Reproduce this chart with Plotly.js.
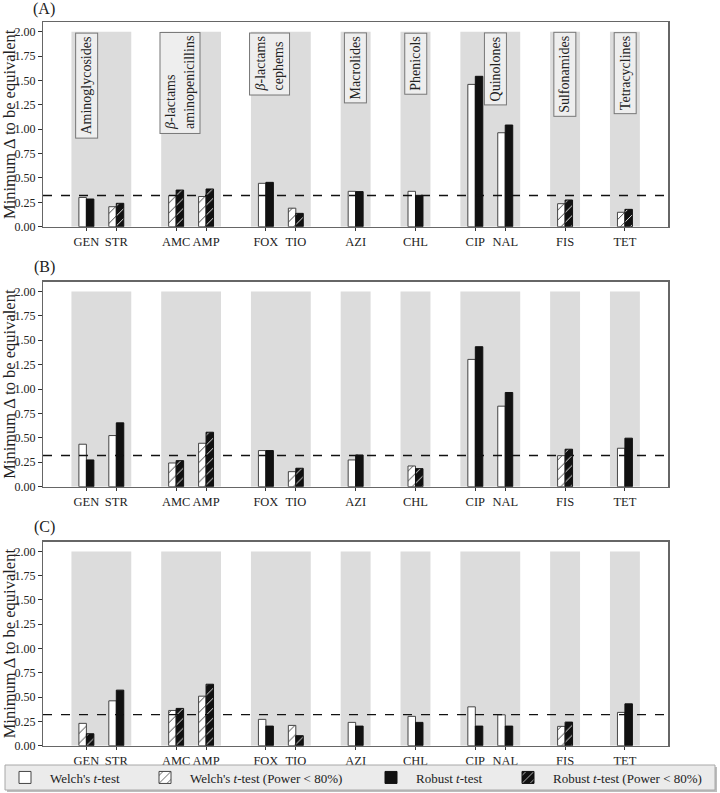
<!DOCTYPE html>
<html>
<head>
<meta charset="utf-8">
<script src="https://cdn.plot.ly/plotly-3.0.1.min.js"></script>
<style>html,body{margin:0;padding:0;background:#fff;}#chart{width:720px;height:793px;}</style>
</head>
<body>
<div id="chart"></div>
<script>
// ---------------- data ----------------
const categories = ['GEN','STR','AMC','AMP','FOX','TIO','AZI','CHL','CIP','NAL','FIS','TET'];
const classNames = ['Aminoglycosides','<i>β</i>-lactams<br>aminopenicillins','<i>β</i>-lactams<br>cephems','Macrolides','Phenicols','Quinolones','Sulfonamides','Tetracyclines'];
const classSizes = [2,2,2,1,1,2,1,1];
const panelLabels = ['(A)','(B)','(C)'];
const threshold = 0.32;

const welchA  = [0.300,0.205,0.320,0.310,0.445,0.190,0.363,0.363,1.460,0.964,0.236,0.148];
const robustA = [0.284,0.240,0.376,0.387,0.455,0.137,0.360,0.322,1.543,1.043,0.274,0.178];
const lowPowerA = [0,1,1,1,0,1,0,0,0,0,1,1];

const welchB  = [0.435,0.524,0.243,0.445,0.370,0.154,0.274,0.212,1.304,0.825,0.318,0.394];
const robustB = [0.274,0.654,0.267,0.558,0.370,0.189,0.325,0.185,1.434,0.965,0.384,0.497];
const lowPowerB = [0,0,1,1,0,1,0,1,0,0,1,0];

const welchC  = [0.230,0.462,0.363,0.510,0.271,0.209,0.240,0.302,0.400,0.318,0.199,0.343];
const robustC = [0.123,0.572,0.384,0.633,0.202,0.103,0.202,0.240,0.202,0.202,0.243,0.431];
const lowPowerC = [1,0,1,1,0,1,0,0,0,0,1,0];

const legendNames = ["Welch's <i>t</i>-test", "Welch's <i>t</i>-test (Power &lt; 80%)", "Robust <i>t</i>-test", "Robust <i>t</i>-test (Power &lt; 80%)"];

// ---------------- style ----------------
const FONT = 'Liberation Serif, Times New Roman, serif';
const classLabelShift = [0, 0.12, 0.13, 0, 0, 0.68, 0, 0];
const xDomain = [43/720, 668.3/720];
const yDomains = [[0.71412,0.97226],[0.38626,0.64477],[0.05965,0.31690]];
const panelLabelY = [9, 267, 527];
const legendItemX = [0, 140, 366, 503];   // px, left edge of each legend entry
const BAR_W = 0.25;
const H = 793, W = 720;

// positions derived from class structure: one empty slot between classes
const positions = [];
const classSpans = [];
{
  let p = 0;
  classSizes.forEach(n => {
    const start = p;
    for (let i = 0; i < n; i++) { positions.push(p); p++; }
    classSpans.push([start, p - 1]);
    p++;
  });
}

const panels = [
  {welch: welchA, robust: robustA, low: lowPowerA},
  {welch: welchB, robust: robustB, low: lowPowerB},
  {welch: welchC, robust: robustC, low: lowPowerC}
];

const traces = [];
const shapes = [];
const annotations = [];
const layout = {
  width: W, height: H,
  margin: {l:0, r:0, t:0, b:0},
  paper_bgcolor: '#ffffff', plot_bgcolor: '#ffffff',
  font: {family: FONT, size: 12, color: '#222'},
  barmode: 'overlay',
  showlegend: true
};
legendNames.forEach((nm, j) => {
  layout[j === 0 ? 'legend' : 'legend' + (j+1)] = {
    orientation: 'h', x: legendItemX[j]/W, xanchor: 'left', y: (H-777.5)/H, yanchor: 'middle',
    bgcolor: 'rgba(0,0,0,0)', borderwidth: 0,
    font: {family: FONT, size: 13, color: '#222'}, itemwidth: 40
  };
});

// legend frame (box + shadow) drawn in paper pixels
shapes.push({type: 'rect', xref: 'paper', yref: 'paper', x0: 7/W, x1: 717/W, y0: (H-792)/H, y1: (H-767)/H,
  fillcolor: '#bdbdbd', line: {width: 0}, layer: 'above'});
shapes.push({type: 'rect', xref: 'paper', yref: 'paper', x0: 5/W, x1: 715/W, y0: (H-790)/H, y1: (H-765)/H,
  fillcolor: '#ebebeb', line: {color: '#a8a8a8', width: 1}, layer: 'above'});

panels.forEach((pn, k) => {
  const sfx = k === 0 ? '' : String(k+1);
  const xa = 'x' + sfx, ya = 'y' + sfx;
  const mk = (vals, lowArr, wantLow) => vals.map((v, i) => (!!lowArr[i] === wantLow) ? v : null);
  const specs = [
    {vals: mk(pn.welch, pn.low, false), off: -BAR_W, color: '#ffffff', line: '#444444', pat: ''},
    {vals: mk(pn.welch, pn.low, true),  off: -BAR_W, color: '#ffffff', line: '#444444', pat: '/', fg: '#222222'},
    {vals: mk(pn.robust, pn.low, false), off: 0, color: '#111111', line: '#111111', pat: ''},
    {vals: mk(pn.robust, pn.low, true),  off: 0, color: '#111111', line: '#111111', pat: '/', fg: '#ffffff'}
  ];
  specs.forEach((s, j) => {
    const marker = {color: s.color, line: {color: s.line, width: 1}};
    if (s.pat) marker.pattern = {shape: s.pat, fgcolor: s.fg, bgcolor: s.color, size: 7, solidity: 0.12, fillmode: 'replace'};
    traces.push({
      type: 'bar', x: positions, y: s.vals, width: BAR_W, offset: s.off,
      xaxis: xa, yaxis: ya, marker: marker,
      name: legendNames[j], legend: j === 0 ? 'legend' : 'legend' + (j+1),
      legendgroup: 'g'+j, showlegend: k === 0,
      hoverinfo: 'skip'
    });
  });

  layout['xaxis' + sfx] = {
    domain: xDomain, anchor: ya, range: [-1.45, 19.45],
    tickmode: 'array', tickvals: positions, ticktext: categories,
    ticks: 'outside', ticklen: 3, tickcolor: '#333', tickwidth: 1,
    showline: true, mirror: true, linecolor: '#666', linewidth: 1.2,
    showgrid: false, zeroline: false, automargin: false,
    tickfont: {family: FONT, size: 12.5, color: '#222'}
  };
  layout['yaxis' + sfx] = {
    domain: yDomains[k], anchor: xa, range: [0, 2.1],
    tickmode: 'array', tickvals: [0,0.25,0.5,0.75,1,1.25,1.5,1.75,2], tickformat: '.2f',
    ticks: 'outside', ticklen: 4, tickcolor: '#333', tickwidth: 1,
    showline: true, mirror: true, linecolor: '#666', linewidth: 1.2,
    showgrid: false, zeroline: false, automargin: false,
    tickfont: {family: FONT, size: 12, color: '#222'},
    title: {text: 'Minimum Δ to be equivalent', font: {family: FONT, size: 16.5, color: '#222'}, standoff: 3}
  };

  classSpans.forEach(sp => {
    shapes.push({type: 'rect', xref: xa, yref: ya, x0: sp[0]-0.5, x1: sp[1]+0.5, y0: 0, y1: 2.0,
      fillcolor: '#dcdcdc', line: {width: 0}, layer: 'below'});
  });
  shapes.push({type: 'line', xref: xa + ' domain', yref: ya, x0: 0, x1: 1, y0: threshold, y1: threshold,
    line: {color: '#111', width: 1.4, dash: 'dash'}, layer: 'above'});

  annotations.push({xref: 'paper', yref: 'paper', x: 44/W, y: (H - panelLabelY[k])/H,
    xanchor: 'center', yanchor: 'middle', text: panelLabels[k], showarrow: false,
    font: {family: FONT, size: 16, color: '#222'}});

  if (k === 0) {
    classSpans.forEach((sp, g) => {
      annotations.push({xref: xa, yref: ya, x: sp[0] + classLabelShift[g], y: 1.995,
        xanchor: 'center', yanchor: 'top', text: classNames[g], textangle: -90, align: 'left',
        showarrow: false, bgcolor: '#eeeeee', bordercolor: '#777', borderwidth: 1, borderpad: 3,
        font: {family: FONT, size: 14, color: '#222'}});
    });
  }
});

layout.shapes = shapes;
layout.annotations = annotations;

Plotly.newPlot('chart', traces, layout, {displayModeBar: false, staticPlot: true});
</script>
</body>
</html>
